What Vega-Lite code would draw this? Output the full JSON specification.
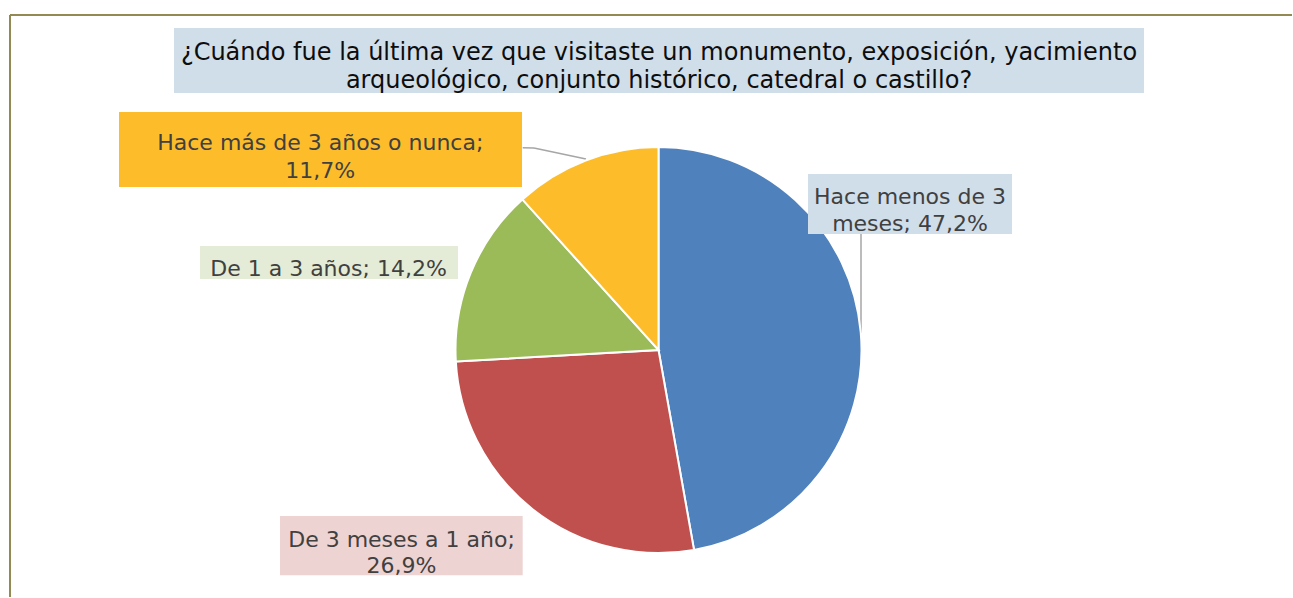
{
  "$schema": "https://vega.github.io/schema/vega-lite/v6.json",
  "width": 1293,
  "height": 598,
  "autosize": {"type": "fit", "contains": "padding"},
  "padding": {"left": 9, "top": 14, "right": 0, "bottom": 0},
  "background": "white",
  "config": {"view": {"stroke": null}, "font": "DejaVu Sans"},
  "data": {
    "values": [
      {"cat": "Hace menos de 3 meses", "pct": 47.2, "order": 1},
      {"cat": "De 3 meses a 1 año", "pct": 26.9, "order": 2},
      {"cat": "De 1 a 3 años", "pct": 14.2, "order": 3},
      {"cat": "Hace más de 3 años o nunca", "pct": 11.7, "order": 4}
    ]
  },
  "transform": [
    {"calculate": "replace(format(datum.pct, '.1f'), '.', ',') + '%'", "as": "pctTxt"}
  ],
  "layer": [
    {
      "transform": [{"filter": "datum.order == 1"}],
      "layer": [
        {"mark": {"type": "rule", "color": "#938953", "strokeWidth": 2}, "encoding": {"y": {"value": 0}}},
        {"mark": {"type": "rule", "color": "#938953", "strokeWidth": 2}, "encoding": {"x": {"value": 0}}},
        {"mark": {"type": "rect", "color": "#D0DEEA"}, "encoding": {"x": {"value": 164}, "x2": {"value": 1134}, "y": {"value": 13}, "y2": {"value": 78}}},
        {"mark": {"type": "text", "fontSize": 24, "color": "#0D0D0D", "align": "center", "baseline": "middle", "lineHeight": 28,
          "text": ["¿Cuándo fue la última vez que visitaste un monumento, exposición, yacimiento", "arqueológico, conjunto histórico, catedral o castillo?"]},
          "encoding": {"x": {"value": 649}, "y": {"value": 38}}},
        {"mark": {"type": "rule", "color": "#A6A6A6", "strokeWidth": 1.5}, "encoding": {"x": {"value": 851}, "x2": {"value": 851}, "y": {"value": 219}, "y2": {"value": 318}}},
        {"mark": {"type": "rule", "color": "#A6A6A6", "strokeWidth": 1.5}, "encoding": {"x": {"value": 512.7}, "x2": {"value": 524}, "y": {"value": 132.7}, "y2": {"value": 133}}},
        {"mark": {"type": "rule", "color": "#A6A6A6", "strokeWidth": 1.5}, "encoding": {"x": {"value": 524}, "x2": {"value": 576}, "y": {"value": 133}, "y2": {"value": 144}}}
      ]
    },
    {
      "mark": {"type": "arc", "outerRadius": 203, "stroke": "white", "strokeWidth": 2},
      "encoding": {
        "theta": {"field": "pct", "type": "quantitative", "stack": true},
        "order": {"field": "order", "type": "quantitative"},
        "color": {
          "field": "cat",
          "type": "nominal",
          "scale": {
            "domain": ["Hace menos de 3 meses", "De 3 meses a 1 año", "De 1 a 3 años", "Hace más de 3 años o nunca"],
            "range": ["#4F81BD", "#C0504D", "#9BBB59", "#FDBD2B"]
          },
          "legend": null
        },
        "x": {"value": 648.5},
        "y": {"value": 335}
      }
    },
    {
      "transform": [
        {"filter": "datum.order == 1"},
        {"calculate": "[slice(datum.cat, 0, 15), slice(datum.cat, 16) + '; ' + datum.pctTxt]", "as": "lbl"}
      ],
      "layer": [
        {"mark": {"type": "rect", "color": "#D0DEEA"}, "encoding": {"x": {"value": 798}, "x2": {"value": 1002}, "y": {"value": 159}, "y2": {"value": 219}}},
        {"mark": {"type": "text", "fontSize": 22, "color": "#404040", "align": "center", "baseline": "middle", "lineHeight": 26.5},
          "encoding": {"text": {"field": "lbl"}, "x": {"value": 900}, "y": {"value": 182.4}}}
      ]
    },
    {
      "transform": [
        {"filter": "datum.order == 4"},
        {"calculate": "[datum.cat + ';', datum.pctTxt]", "as": "lbl"}
      ],
      "layer": [
        {"mark": {"type": "rect", "color": "#FDBD2B"}, "encoding": {"x": {"value": 109}, "x2": {"value": 512}, "y": {"value": 97}, "y2": {"value": 172}}},
        {"mark": {"type": "text", "fontSize": 22, "color": "#404040", "align": "center", "baseline": "middle", "lineHeight": 28},
          "encoding": {"text": {"field": "lbl"}, "x": {"value": 310.3}, "y": {"value": 128}}}
      ]
    },
    {
      "transform": [
        {"filter": "datum.order == 3"},
        {"calculate": "datum.cat + '; ' + datum.pctTxt", "as": "lbl"}
      ],
      "layer": [
        {"mark": {"type": "rect", "color": "#E4ECD7"}, "encoding": {"x": {"value": 190}, "x2": {"value": 448}, "y": {"value": 231}, "y2": {"value": 264}}},
        {"mark": {"type": "text", "fontSize": 22, "color": "#404040", "align": "center", "baseline": "middle"},
          "encoding": {"text": {"field": "lbl"}, "x": {"value": 318.5}, "y": {"value": 254}}}
      ]
    },
    {
      "transform": [
        {"filter": "datum.order == 2"},
        {"calculate": "[datum.cat + ';', datum.pctTxt]", "as": "lbl"}
      ],
      "layer": [
        {"mark": {"type": "rect", "color": "#EED3D3"}, "encoding": {"x": {"value": 270}, "x2": {"value": 512.7}, "y": {"value": 501}, "y2": {"value": 560.3}}},
        {"mark": {"type": "text", "fontSize": 22, "color": "#404040", "align": "center", "baseline": "middle", "lineHeight": 26.3},
          "encoding": {"text": {"field": "lbl"}, "x": {"value": 391.5}, "y": {"value": 525}}}
      ]
    }
  ]
}
